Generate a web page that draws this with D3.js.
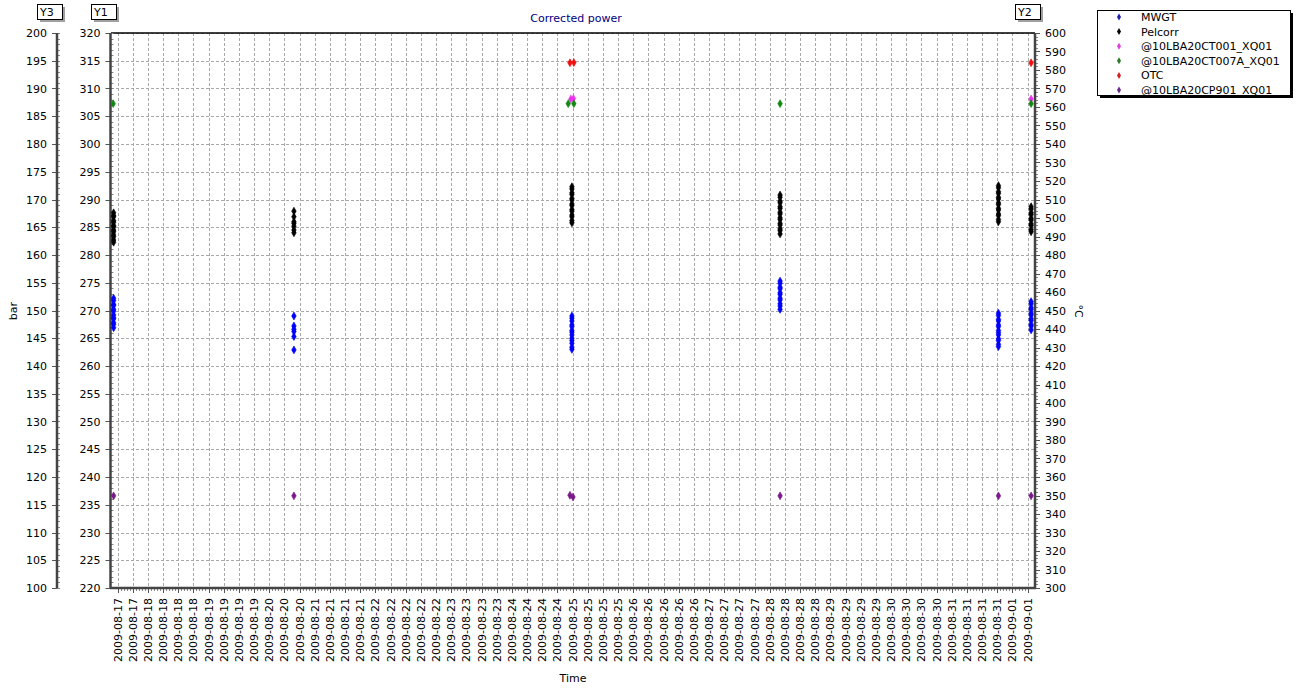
<!DOCTYPE html>
<html><head><meta charset="utf-8">
<script src="https://cdn.jsdelivr.net/npm/d3@7"></script>
<style>body{margin:0;background:#fff}text{font-family:"DejaVu Sans",Verdana,sans-serif;font-size:11px}</style>
</head><body><svg id="c" width="1300" height="700"></svg>
<script>
// ---------------- data ----------------
const title = "Corrected power";
const seriesNames = ["MWGT","Pelcorr","@10LBA20CT001_XQ01","@10LBA20CT007A_XQ01","OTC","@10LBA20CP901_XQ01"];
const seriesColors = ["#0000ff","#000000","#ee33ee","#118811","#ee1111","#7a1a8a"];
const legendColors = ["#2020b0","#000000","#e040e0","#2a7a2a","#d02020","#6a2a8a"];
const xDomain = ["2009-08-17T12:00","2009-09-01T06:00"];
const tickFirst = "2009-08-17T14:30", tickLast = "2009-09-01T03:10";
const tickLabels = [
"2009-08-17","2009-08-17",
"2009-08-18","2009-08-18","2009-08-18","2009-08-18",
"2009-08-19","2009-08-19","2009-08-19","2009-08-19",
"2009-08-20","2009-08-20","2009-08-20",
"2009-08-21","2009-08-21","2009-08-21","2009-08-21",
"2009-08-22","2009-08-22","2009-08-22","2009-08-22","2009-08-22",
"2009-08-23","2009-08-23","2009-08-23","2009-08-23",
"2009-08-24","2009-08-24","2009-08-24","2009-08-24",
"2009-08-25","2009-08-25","2009-08-25","2009-08-25",
"2009-08-26","2009-08-26","2009-08-26","2009-08-26","2009-08-26",
"2009-08-27","2009-08-27","2009-08-27","2009-08-27",
"2009-08-28","2009-08-28","2009-08-28","2009-08-28",
"2009-08-29","2009-08-29","2009-08-29","2009-08-29",
"2009-08-30","2009-08-30","2009-08-30","2009-08-30",
"2009-08-31","2009-08-31","2009-08-31","2009-08-31",
"2009-09-01","2009-09-01"];
const y1Domain = [220, 320], y2Domain = [300, 600], y3Domain = [100, 200];

// measurement batches (time of each batch)
const batchTimes = ["2009-08-17T13:00","2009-08-20T10:05","2009-08-24T20:35","2009-08-28T04:20","2009-08-31T16:00","2009-09-01T04:30"];
// MWGT (Y1) values per batch
const mwgtValues = [
 [272.2,271.8,271.1,270.9,270.2,269.9,269.2,268.7,268.5,267.8,267.5,266.9],
 [269.0,267.2,266.6,266.2,265.3,262.9],
 [269.0,268.6,268.1,267.4,267.1,266.4,266.1,265.6,265.0,264.6,264.1,263.4,263.0],
 [275.3,274.9,274.2,273.9,273.2,272.9,272.2,271.9,271.2,270.8,270.2],
 [269.5,269.1,268.4,268.1,267.4,267.1,266.4,266.0,265.6,264.9,264.6,263.9,263.5],
 [271.6,271.2,270.5,270.2,269.5,269.2,268.5,268.2,267.5,267.2,266.5]];
// Pelcorr (Y1) values per batch
const pelcorrValues = [
 [287.6,287.1,286.9,286.2,285.9,285.3,285.1,284.5,284.2,283.6,283.3,282.7,282.3],
 [287.9,286.9,286.0,285.7,285.2,284.5,284.0],
 [292.3,291.9,291.2,290.9,290.2,289.9,289.2,288.9,288.2,287.9,287.2,286.9,286.2,285.8],
 [290.8,290.4,289.7,289.4,288.7,288.4,287.7,287.4,286.7,286.4,285.7,285.4,284.7,284.4,283.8],
 [292.5,292.1,291.4,291.1,290.4,290.1,289.4,289.1,288.4,288.1,287.4,287.1,286.4,286.0],
 [288.7,288.3,287.6,287.3,286.6,286.3,285.6,285.3,284.6,284.2]];
// CT001 (Y2)
const ct001Times = ["2009-08-24T20:10","2009-08-24T21:10","2009-09-01T04:30"];
const ct001Values = [564.3, 564.5, 564.3];
// CT007A (Y2)
const ct007Times = ["2009-08-17T12:50","2009-08-24T19:10","2009-08-24T21:20","2009-08-28T04:20","2009-09-01T04:30"];
const ct007Values = [561.8, 561.8, 561.8, 561.8, 561.8];
// OTC (Y2)
const otcTimes = ["2009-08-24T19:50","2009-08-24T21:20","2009-09-01T04:30"];
const otcValues = [583.9, 584.0, 583.9];
// CP901 (Y3)
const cp901Times = ["2009-08-17T13:00","2009-08-20T10:05","2009-08-24T19:50","2009-08-24T21:00","2009-08-28T04:20","2009-08-31T16:00","2009-09-01T04:30"];
const cp901Values = [116.6, 116.6, 116.7, 116.4, 116.6, 116.6, 116.6];

// ---------------- layout ----------------
const svg = d3.select("#c");
const L = 111, R = 1035, T = 33, B = 588;
const parse = s => new Date(s);
const x = d3.scaleTime().domain(xDomain.map(parse)).range([L, R]);
const y1 = d3.scaleLinear().domain(y1Domain).range([B, T]);
const y2 = d3.scaleLinear().domain(y2Domain).range([B, T]);
const y3 = d3.scaleLinear().domain(y3Domain).range([B, T]);
const xt = d3.scalePoint().domain(d3.range(tickLabels.length)).range([x(parse(tickFirst)), x(parse(tickLast))]);

svg.append("rect").attr("width",1300).attr("height",700).attr("fill","#fff");

// gridlines
const grid = svg.append("g").attr("stroke","#a8a8a8").attr("stroke-dasharray","3,2").attr("stroke-width",1);
grid.selectAll(".h").data(d3.range(y1Domain[0], y1Domain[1]+0.1, 5)).join("line")
  .attr("x1",L).attr("x2",R).attr("y1",d=>Math.round(y1(d))+0.5).attr("y2",d=>Math.round(y1(d))+0.5);
grid.selectAll(".v").data(xt.domain()).join("line")
  .attr("y1",T).attr("y2",B).attr("x1",d=>Math.round(xt(d))+0.5).attr("x2",d=>Math.round(xt(d))+0.5);

// top border
svg.append("line").attr("x1",L).attr("x2",R).attr("y1",T).attr("y2",T).attr("stroke","#000").attr("stroke-width",1.5);

// vertical axes helper
function vAxis(scale, xPos, step, minorStep, side) {
  const g = svg.append("g");
  const [a,b] = scale.domain();
  g.selectAll(".mn").data(d3.range(a, b+0.001, minorStep)).join("line")
    .attr("x1", xPos).attr("x2", xPos + 3)
    .attr("y1", d=>Math.round(scale(d))+0.5).attr("y2", d=>Math.round(scale(d))+0.5)
    .attr("stroke","#888");
  g.selectAll(".mj").data(d3.range(a, b+0.001, step)).join("line")
    .attr("x1", side==="left"? xPos-5 : xPos).attr("x2", side==="left"? xPos : xPos+5)
    .attr("y1", d=>Math.round(scale(d))+0.5).attr("y2", d=>Math.round(scale(d))+0.5)
    .attr("stroke","#555");
  g.selectAll("text").data(d3.range(a, b+0.001, step)).join("text")
    .attr("x", side==="left"? xPos-10 : xPos+10).attr("y", d=>scale(d)+4)
    .attr("text-anchor", side==="left"? "end":"start").attr("fill","#000").text(d=>d);
  g.append("line").attr("x1",xPos).attr("x2",xPos).attr("y1",T).attr("y2",B).attr("stroke","#444").attr("stroke-width",2.5);
}
vAxis(y3, 57, 5, 1, "left");
vAxis(y1, 110.5, 5, 1, "left");
vAxis(y2, 1035, 10, 2, "right");

// x axis
const xa = svg.append("g");
const step = xt.step();
xa.selectAll(".mn").data(d3.range(0, (tickLabels.length-1)*5+1)).join("line")
  .attr("x1",d=>Math.round(xt(0)+d*step/5)+0.5).attr("x2",d=>Math.round(xt(0)+d*step/5)+0.5)
  .attr("y1",B).attr("y2",B+3).attr("stroke","#888");
xa.selectAll(".mj").data(xt.domain()).join("line")
  .attr("x1",d=>Math.round(xt(d))+0.5).attr("x2",d=>Math.round(xt(d))+0.5)
  .attr("y1",B).attr("y2",B+5).attr("stroke","#555");
xa.selectAll("text").data(xt.domain()).join("text")
  .attr("transform",d=>`translate(${xt(d)+4},${B+10}) rotate(-90)`)
  .attr("text-anchor","end").text(d=>tickLabels[d]);
xa.append("line").attr("x1",L-1).attr("x2",R+1).attr("y1",B).attr("y2",B).attr("stroke","#444").attr("stroke-width",2.5);

// axis titles
svg.append("text").attr("x",576).attr("y",22).attr("text-anchor","middle").attr("fill","#000080").text(title);
svg.append("text").attr("transform","translate(17,311) rotate(-90)").attr("text-anchor","middle").text("bar");
svg.append("text").attr("transform","translate(1075,311) rotate(90)").attr("text-anchor","middle").text("°C");
svg.append("text").attr("x",573).attr("y",682).attr("text-anchor","middle").text("Time");

// Y boxes
function yBox(x0, label) {
  svg.append("rect").attr("x",x0+3).attr("y",7).attr("width",25).attr("height",15).attr("fill","#a0a0a0");
  svg.append("rect").attr("x",x0+0.5).attr("y",4.5).attr("width",25).attr("height",15).attr("fill","#fff").attr("stroke","#000");
  svg.append("text").attr("x",x0+3).attr("y",16).text(label);
}
yBox(37,"Y3"); yBox(91,"Y1"); yBox(1015,"Y2");

// markers
const diamond = d3.symbol().type(d3.symbolDiamond).size(18);
function drawSeries(points, color, ys) {
  svg.append("g").selectAll("path").data(points).join("path")
    .attr("transform",d=>`translate(${x(parse(d[0]))},${ys(d[1])})`)
    .attr("d",diamond).attr("fill",color).attr("stroke",color).attr("stroke-width",0.6);
}
const batched = vals => vals.flatMap((arr,i)=>arr.map(v=>[batchTimes[i],v]));
drawSeries(batched(mwgtValues), seriesColors[0], y1);
drawSeries(batched(pelcorrValues), seriesColors[1], y1);
drawSeries(ct001Times.map((t,i)=>[t,ct001Values[i]]), seriesColors[2], y2);
drawSeries(ct007Times.map((t,i)=>[t,ct007Values[i]]), seriesColors[3], y2);
drawSeries(otcTimes.map((t,i)=>[t,otcValues[i]]), seriesColors[4], y2);
drawSeries(cp901Times.map((t,i)=>[t,cp901Values[i]]), seriesColors[5], y3);

// legend
const lg = svg.append("g");
lg.append("rect").attr("x",1100).attr("y",13).attr("width",193).attr("height",85).attr("fill","#000");
lg.append("rect").attr("x",1097.5).attr("y",10.5).attr("width",193).attr("height",85).attr("fill","#fff").attr("stroke","#000");
seriesNames.forEach((n,i)=>{
  const yy = 17 + i*14.6;
  lg.append("path").attr("transform",`translate(1119,${yy})`).attr("d",d3.symbol().type(d3.symbolDiamond).size(14)).attr("fill",legendColors[i]);
  lg.append("text").attr("x",1141).attr("y",yy+4).text(n);
});
</script></body></html>
